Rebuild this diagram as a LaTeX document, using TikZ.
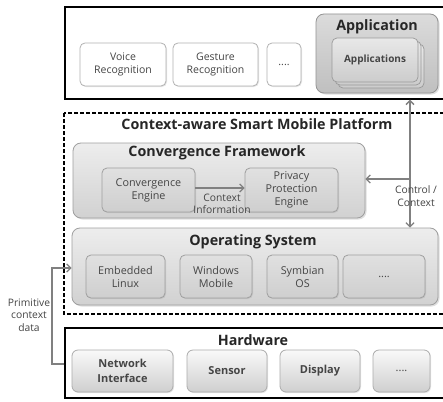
\documentclass[tikz,border=0pt]{standalone}
\usepackage{fontspec}
\setmainfont{Open Sans}
\usetikzlibrary{arrows.meta,shadows}
\definecolor{linegray}{HTML}{808080}
\definecolor{txtgray}{HTML}{454545}
\begin{document}
\begin{tikzpicture}[x=1pt,y=-1pt,
  layerbox/.style={draw=black, line width=1.4pt, fill=white, inner sep=0pt},
  dashbox/.style={draw=black, line width=1.2pt, dash pattern=on 4pt off 2pt},
  outerbox/.style={draw=gray!75, line width=0.8pt, rounded corners=8pt, top color=gray!14, bottom color=gray!36, inner sep=0pt,
    drop shadow={opacity=0.25, shadow xshift=1.5pt, shadow yshift=-1.5pt}},
  appbox/.style={outerbox, top color=gray!28, bottom color=gray!50, draw=gray!85},
  innerbox/.style={draw=gray!75, line width=0.8pt, rounded corners=5pt, top color=gray!24, bottom color=gray!38, inner sep=0pt,
    text=txtgray, align=center, font=\fontsize{10.8}{13}\selectfont,
    drop shadow={opacity=0.2, shadow xshift=1pt, shadow yshift=-1pt}},
  recogbox/.style={draw=gray!60, line width=0.8pt, rounded corners=5pt, fill=white, inner sep=0pt,
    text=txtgray, align=center, font=\fontsize{10.5}{13.5}\selectfont,
    drop shadow={opacity=0.2, shadow xshift=1pt, shadow yshift=-1pt}},
  cardbox/.style={draw=gray!80, line width=0.7pt, rounded corners=5pt, top color=gray!18, bottom color=gray!40, inner sep=0pt,
    text=txtgray, align=center, font=\bfseries\fontsize{10}{12}\selectfont},
  hwbox/.style={draw=gray!65, line width=0.8pt, rounded corners=6pt, top color=gray!5, bottom color=gray!38, inner sep=0pt,
    text=txtgray, align=center, font=\bfseries\fontsize{11}{15}\selectfont,
    drop shadow={opacity=0.2, shadow xshift=1pt, shadow yshift=-1pt}},
  titletext/.style={font=\bfseries\fontsize{14.3}{16}\selectfont, text=black!85, inner sep=0pt},
  lbl/.style={font=\fontsize{10.3}{12.3}\selectfont, text=txtgray, align=center, inner sep=0pt},
  conn/.style={draw=linegray, line width=1.3pt, -{Straight Barb[length=4pt,width=8pt]}},
  conn2/.style={draw=linegray, line width=1.3pt, {Straight Barb[length=4pt,width=8pt]}-{Straight Barb[length=4pt,width=8pt]}}
]
\useasboundingbox (0,0) rectangle (443,401);
\fill[white] (0,0) rectangle (443,401);

% Application layer
\node[layerbox, minimum width=395pt, minimum height=92pt] (top) at (262.5,53) {};
\node[recogbox, minimum width=86pt, minimum height=43pt] (voice) at (123,64.5) {Voice\\Recognition};
\node[recogbox, minimum width=85pt, minimum height=43pt] (gesture) at (215.5,64.5) {Gesture\\Recognition};
\node[recogbox, minimum width=34pt, minimum height=43pt] (dots1) at (284,64.5) {....};
\node[appbox, minimum width=122pt, minimum height=79pt] (app) at (377,53.5) {};
\node[titletext] (apptitle) at (377,27) {Application};
\node[cardbox, minimum width=86pt, minimum height=44pt] (card3) at (381,66) {};
\node[cardbox, minimum width=86pt, minimum height=44pt] (card2) at (378,63) {};
\node[cardbox, minimum width=86pt, minimum height=44pt] (apps) at (375,60) {Applications};

% Platform
\draw[dashbox] (64,113) rectangle (470,314);
\node[titletext] (plat) at (257,124) {Context-aware Smart Mobile Platform};

\node[outerbox, minimum width=292pt, minimum height=75pt] (cf) at (219,180.5) {};
\node[titletext] (cftitle) at (217,153) {Convergence Framework};
\node[innerbox, minimum width=93pt, minimum height=44pt] (ce) at (148.5,190) {Convergence\\Engine};
\node[innerbox, minimum width=93pt, minimum height=44pt] (ppe) at (291.5,190) {Privacy\\Protection\\Engine};
\draw[conn] (ce.east |- 0,188) -- (ppe.west |- 0,188);
\node[lbl] (ctxinfo) at (222,204) {Context\\Information};

\node[outerbox, minimum width=366pt, minimum height=77pt] (os) at (255,266.5) {};
\node[titletext] (ostitle) at (253,242) {Operating System};
\node[innerbox, minimum width=79pt, minimum height=43pt] (el) at (125.5,276.5) {Embedded\\Linux};
\node[innerbox, minimum width=72pt, minimum height=43pt] (wm) at (216,276.5) {Windows\\Mobile};
\node[innerbox, minimum width=71pt, minimum height=43pt] (so) at (302.5,276.5) {Symbian\\OS};
\node[innerbox, minimum width=82pt, minimum height=43pt] (dots2) at (384,276.5) {....};

% Hardware
\node[layerbox, minimum width=395pt, minimum height=70pt] (hw) at (262.5,363) {};
\node[titletext] (hwtitle) at (253,340) {Hardware};
\node[hwbox, minimum width=101pt, minimum height=42pt] (ni) at (122.5,371) {Network\\Interface};
\node[hwbox, minimum width=80pt, minimum height=42pt] (sensor) at (227,371) {Sensor};
\node[hwbox, minimum width=80pt, minimum height=42pt] (display) at (320,371) {Display};
\node[hwbox, minimum width=57pt, minimum height=42pt] (dots3) at (401.5,371) {\mdseries ....};

% Control / Context connectors
\coordinate (cx) at (410,0);
\coordinate (br) at (410,179);
\draw[conn2] (top.south -| cx) -- (os.north -| cx);
\draw[conn] (br) -- (cf.east |- br);
\node[lbl] (ctl) at (416,196) {Control /\\Context};

% Primitive context data
\coordinate (p1) at (52,364);
\coordinate (p2) at (52,268);
\draw[conn] (hw.west |- p1) -- (p1) -- (p2) -- (os.west |- p2);
\node[lbl] (prim) at (29,315) {Primitive\\context\\data};
\end{tikzpicture}
\end{document}
